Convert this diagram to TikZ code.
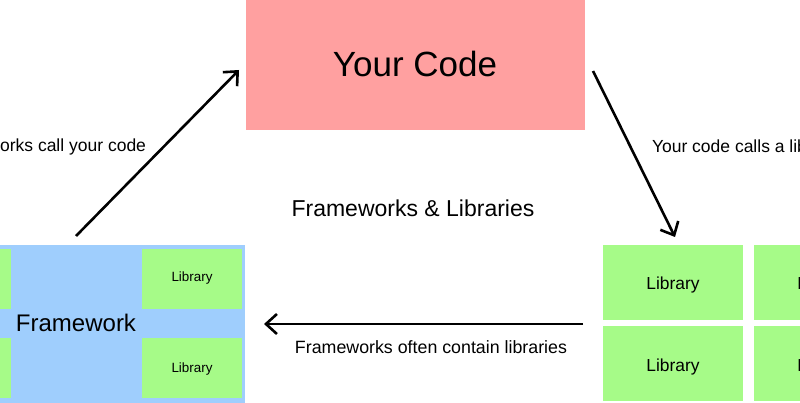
\documentclass[tikz,border=0pt]{standalone}
\usepackage{fontspec}
\setmainfont{Liberation Sans}
\usetikzlibrary{arrows.meta}
\definecolor{codepink}{RGB}{255,160,160}
\definecolor{fwblue}{RGB}{159,206,253}
\definecolor{libgreen}{RGB}{166,251,136}
\tikzset{
  box/.style={draw=none, inner sep=0pt, outer sep=0pt},
  lbl/.style={inner sep=0pt, outer sep=0pt, anchor=base, text=black},
  flow/.style={line width=2.6pt, -{Straight Barb[length=11pt, width=20pt, line width=2.6pt]}},
}
\newcommand{\fs}[1]{\fontsize{#1}{#1}\selectfont}
\begin{document}
\begin{tikzpicture}[x=1pt, y=-1pt]
\useasboundingbox (0,0) rectangle (800,403);
\clip (0,0) rectangle (800,403);
% Your Code
\fill[codepink] (246,0) rectangle (585,130);
\node[box] (code) at (415.5,65) {};
\node[lbl] (codetxt) at (415,77) {\fs{35}Your Code};
% Framework
\fill[fwblue] (-100,245) rectangle (245,403);
\node[box] (fw) at (72,324) {};
\fill[libgreen] (-89,249) rectangle (11,309);
\fill[libgreen] (-89,338) rectangle (11,398);
\fill[libgreen] (142,249) rectangle (242,309);
\fill[libgreen] (142,338) rectangle (242,398);
\node[lbl, anchor=base west] (fwtxt) at (16,331) {\fs{24}Framework};
\node[lbl] (fl1) at (192,282) {\fs{13.4}Library};
\node[lbl] (fl2) at (192,372) {\fs{13.4}Library};
% Libraries on the right
\fill[libgreen] (603,245) rectangle (743,320);
\fill[libgreen] (603,326) rectangle (743,401);
\fill[libgreen] (754,245) rectangle (894,320);
\fill[libgreen] (754,326) rectangle (894,401);
\node[lbl] (l1) at (673,290) {\fs{17.4}Library};
\node[lbl] (l2) at (673,371) {\fs{17.4}Library};
\node[lbl] (l3) at (824,290) {\fs{17.4}Library};
\node[lbl] (l4) at (824,371) {\fs{17.4}Library};
% Texts
\node[lbl] (title) at (413,217) {\fs{23}Frameworks \& Libraries};
\node[lbl] (contain) at (431,353) {\fs{17.8}Frameworks often contain libraries};
\node[lbl, anchor=base east] (fwcall) at (146,152) {\fs{17.5}Frameworks call your code};
\node[lbl, anchor=base west] (codecall) at (652,153) {\fs{17.5}Your code calls a library};
% Arrow endpoints
\coordinate (a1s) at (76,236);
\coordinate (a1e) at (239,70);
\coordinate (a2s) at (593,71);
\coordinate (a2e) at (675,237);
\coordinate (a3s) at (583,324);
\coordinate (a3e) at (264,324);
\draw[flow] (a1s) -- (a1e);
\draw[flow] (a2s) -- (a2e);
\draw[flow] (a3s) -- (a3e);
\end{tikzpicture}
\end{document}
